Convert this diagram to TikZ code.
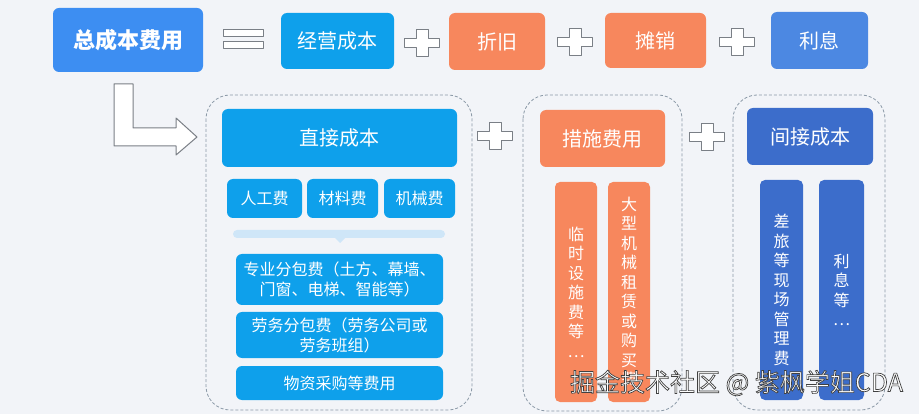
\documentclass[tikz,border=0pt]{standalone}
\usepackage{fontspec}
\setmainfont{Noto Sans CJK SC}
\newfontfamily\cjk{Noto Sans CJK SC}
\usetikzlibrary{shapes.geometric}
\definecolor{bgc}{HTML}{F2F4F8}
\definecolor{blueA}{HTML}{3D8EF2}
\definecolor{cyanA}{HTML}{0EA0EB}
\definecolor{orangeA}{HTML}{F7875D}
\definecolor{blueB}{HTML}{4C88E2}
\definecolor{navyA}{HTML}{3C6DCB}
\definecolor{lightbar}{HTML}{CFE6F8}
\definecolor{dashc}{HTML}{8A98A6}
\definecolor{symc}{HTML}{7A7F86}
\newcommand\fs[2]{\fontsize{#1}{#2}\selectfont}
\newcommand\outlinedtext[1]{\special{pdf:literal direct 2 Tr 0.7 w 0.25 0.25 0.25 RG}#1\special{pdf:literal direct 0 Tr}}
\newcommand\plusmark[3]{%
  \draw[symbol] (#2-17.5,#3-4.5) -- (#2-6,#3-4.5) -- (#2-6,#3-13.5) -- (#2+6,#3-13.5) -- (#2+6,#3-4.5) -- (#2+17.5,#3-4.5)
   -- (#2+17.5,#3+4.5) -- (#2+6,#3+4.5) -- (#2+6,#3+13.5) -- (#2-6,#3+13.5) -- (#2-6,#3+4.5) -- (#2-17.5,#3+4.5) -- cycle;
  \coordinate (#1) at (#2,#3);}
\begin{document}
\begin{tikzpicture}[x=1pt,y=-1pt,
  box/.style={rounded corners=6pt, text=white, inner sep=0pt, align=center, font=\cjk},
  container/.style={draw=dashc, dash pattern=on 3pt off 2pt, line width=0.8pt, rounded corners=24pt},
  symbol/.style={draw=symc, fill=white, line width=1pt, line join=round},
  vbar/.style={box, rounded corners=5pt, minimum width=42pt, minimum height=220pt, font=\cjk\fs{16}{19.5}}]
\fill[bgc] (0,0) rectangle (919,414);
\useasboundingbox (0,0) rectangle (919,414);

% top row
\node[box, fill=blueA, minimum width=150pt, minimum height=64pt, font=\cjk\bfseries\fs{22}{26}] (tot) at (128,40) {总成本费用};
\draw[symbol] (223,30) rectangle (263,37);
\draw[symbol] (223,42) rectangle (263,49);
\coordinate (eq) at (243,40);
\node[box, fill=cyanA, minimum width=113pt, minimum height=56pt, font=\cjk\fs{20}{24}] (jy) at (337.5,41) {经营成本};
\plusmark{p1}{422}{43}
\node[box, fill=orangeA, minimum width=96pt, minimum height=57pt, font=\cjk\fs{20}{24}] (zj) at (497,41.5) {折旧};
\plusmark{p2}{575}{42}
\node[box, fill=orangeA, minimum width=101pt, minimum height=55pt, font=\cjk\fs{20}{24}] (tx) at (655.5,40.5) {摊销};
\plusmark{p3}{737}{42}
\node[box, fill=blueB, minimum width=97pt, minimum height=57pt, font=\cjk\fs{20}{24}] (lx) at (819.5,40.5) {利息};

% L arrow
\draw[symbol] (114,84) -- (133,84) -- (133,128) -- (176,128) -- (176,118) -- (197,137) -- (176,155) -- (176,146) -- (114,146) -- cycle;

% containers
\draw[container] (206,95) rectangle (472,410);
\draw[container] (523,95) rectangle (682,411);
\draw[container] (733,95) rectangle (885,410);
\plusmark{p4}{495}{136}
\plusmark{p5}{707}{137}

% direct cost
\node[box, fill=cyanA, minimum width=235pt, minimum height=58pt, font=\cjk\fs{20}{24}] (zjcb) at (339.5,138) {直接成本};
\node[box, fill=cyanA, minimum width=75pt, minimum height=39pt, font=\cjk\fs{16}{20}] (rg) at (264.5,198.5) {人工费};
\node[box, fill=cyanA, minimum width=71pt, minimum height=39pt, font=\cjk\fs{16}{20}] (cl) at (342.5,198.5) {材料费};
\node[box, fill=cyanA, minimum width=71pt, minimum height=39pt, font=\cjk\fs{16}{20}] (jx) at (419.5,198.5) {机械费};
\fill[lightbar, rounded corners=4pt] (233,230) rectangle (445,238);
\fill[lightbar] (334,237) -- (346,237) -- (340,243) -- cycle;
\node[box, fill=cyanA, minimum width=207pt, minimum height=51pt, font=\cjk\fs{16}{20}] (zy) at (339.5,279.5) {专业分包费（土方、幕墙、\\门窗、电梯、智能等）};
\node[box, fill=cyanA, minimum width=207pt, minimum height=46pt, font=\cjk\fs{16}{20}] (lw) at (339.5,335) {劳务分包费（劳务公司或\\劳务班组）};
\node[box, fill=cyanA, minimum width=207pt, minimum height=34pt, font=\cjk\fs{16}{20}] (wz) at (339.5,383) {物资采购等费用};

% measures
\node[box, fill=orangeA, minimum width=125pt, minimum height=57pt, font=\cjk\fs{20}{24}] (csfy) at (602.5,138.5) {措施费用};
\node[vbar, fill=orangeA] (b1) at (576,292) {临\\时\\设\\施\\费\\等\\…};
\node[vbar, fill=orangeA] (b2) at (629,292) {大\\型\\机\\械\\租\\赁\\或\\购\\买\\费};

% indirect
\node[box, fill=navyA, minimum width=126pt, minimum height=57pt, font=\cjk\fs{20}{24}] (jjcb) at (810,136.5) {间接成本};
\node[vbar, fill=navyA, minimum width=43pt] (b3) at (781.5,290) {差\\旅\\等\\现\\场\\管\\理\\费};
\node[vbar, fill=navyA, minimum width=45pt] (b4) at (841.5,290) {利\\息\\等\\…};

% watermark
\node[font=\cjk\fs{25}{29}, text=white, inner sep=0pt] (wm) at (736.5,383) {\outlinedtext{掘金技术社区 @ 紫枫学姐CDA}};
\end{tikzpicture}
\end{document}
